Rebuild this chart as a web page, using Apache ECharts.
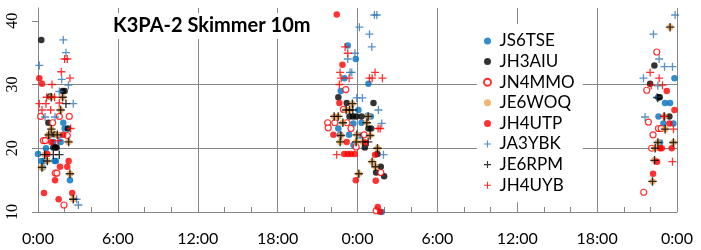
<!DOCTYPE html>
<html><head><meta charset="utf-8">
<script src="https://cdn.jsdelivr.net/npm/echarts@6/dist/echarts.min.js"></script>
<style>html,body{margin:0;padding:0;background:#fff}#c{width:701px;height:250px}</style>
</head><body><div id="c"></div>
<script>
const seriesNames = ['JS6TSE','JH3AIU','JN4MMO','JE6WOQ','JH4UTP','JA3YBK','JE6RPM','JH4UYB'];
const xTickLabels = ['0:00','6:00','12:00','18:00','0:00','6:00','12:00','18:00','0:00'];
const yTickValues = [10,20,30,40];

// [hour since start, value]
const JS6TSE = [[1.9,24],[2.0,23.1],[1.6,22],[1.7,21],[1.15,21],[0.6,20],[0.0,19.1],[0.25,18],[0.45,18],[1.25,18],[1.35,18],[0.35,17],[2.4,15],
  [23.27,36.1],[23.87,34],[23.02,31],[24.82,30.1],[22.74,29],[24.07,26],[24.77,25.1],[25.0,25],[22.56,23.1],[23.69,23.9],[24.3,24],[22.69,22.1],[23.37,22.1],[24.2,22],[23.7,20.5],[25.82,10],
  [47.81,31],[47.1,27.1],[47.48,27.1],[46.61,25],[46.98,23.9],[47.73,23.9],[46.73,20.9]];
const JH3AIU = [[0.25,37],[1.85,29],[2.0,29],[0.9,28.1],[0.78,24],[2.25,23.1],[1.2,22.2],[1.15,20.1],[1.3,20.1],[1.4,20.1],[0.8,22],
  [22.56,28],[23.19,27.1],[25.2,27.1],[23.4,25],[23.65,25],[23.9,25],[24.3,25],[24.82,23.1],[25.02,23.1],[24.55,20.1],[25.5,19.1],[25.75,17.1],[25.4,16.2],[26.0,15.6],
  [46.3,33],[45.98,30.1],[46.6,28],[46.7,28],[47.43,25]];
const JN4MMO = [[0.2,25],[1.1,24],[1.6,25],[2.35,25],[2.2,22],[0.4,21.2],[0.55,21.2],[1.3,16.1],[1.42,16.1],[1.95,11.1],
  [23.12,29.2],[22.94,26.1],[21.76,24],[22.3,24],[21.8,23.2],[23.51,23.1],[23.2,24],[24.5,22.1],[23.9,20.2],[25.75,16.2],[25.4,10.2],
  [46.48,35.1],[45.73,29.1],[45.85,24.1],[46.61,23.1],[46.81,23.1],[46.2,22.1],[46.1,20],[45.5,13.1]];
const JE6WOQ = [[1.0,28],[1.85,28],[1.7,26],[1.0,23],[0.8,22.1],[1.45,22.1],[2.3,21],[0.5,19],[0.7,18],[0.3,17],[2.4,16],[2.65,12],
  [23.62,27],[23.15,26],[23.4,26],[22.25,25],[22.55,25],[24.8,25],[22.9,24],[24.7,24],[22.75,22],[23.95,22.1],[24.95,22],[22.7,21],[23.9,21],[24.4,21],[25.5,20],[25.1,17.9],[25.35,17.1],[24.1,16],
  [47.48,39],[47.06,25],[47.11,23],[46.56,20.9],[47.73,20.9],[46.36,20],[46.31,18.1],[46.16,14.8]];
const JH4UTP = [[0.1,31],[0.3,30.1],[1.9,22.1],[1.0,21],[0.7,19.1],[1.65,17.1],[2.2,17.1],[2.3,18],[1.28,15],[0.45,13],[1.55,12],[2.57,13],
  [22.44,41],[22.87,33.1],[22.64,27.1],[22.19,22.1],[23.19,21],[24.6,20.9],[23.0,19.1],[23.27,19.1],[23.5,19.1],[23.8,19.1],[25.32,19],[23.87,15],[25.37,14.9],[25.52,10.8],[25.7,10.05],
  [47.23,29],[47.81,26],[47.43,23.9],[46.73,20],[46.86,20],[47.6,20],[46.5,17.9],[46.2,16]];
const JA3YBK = [[1.9,37],[2.1,35],[0.1,33],[1.78,30.8],[2.28,29.9],[1.6,28.9],[2.65,27],[0.53,24.9],[1.28,24.9],[2.9,12],[3.03,11.1],
  [25.27,40.9],[25.45,40.9],[24.14,39],[24.9,37.9],[25.07,35.9],[23.81,34.9],[23.27,34],[23.44,31.9],[23.57,31.9],[23.94,27.9],[24.37,27.9],[25.57,26],[25.82,23.9],[25.95,19],
  [47.86,40.9],[46.23,37.9],[46.66,34],[47.06,32.8],[47.66,32.8],[45.48,31],[46.56,29.8],[46.48,28],[45.6,24.9]];
const JE6RPM = [[1.0,28],[1.85,28],[2.1,27],[1.7,26],[1.0,23],[0.8,22.1],[1.45,22.1],[2.3,21],[0.5,19],[1.15,19],[1.6,19],[0.7,18],[0.3,17],[2.4,16],[2.65,12],
  [23.62,27],[23.15,26],[23.4,26],[23.65,26],[22.25,25],[22.55,25],[24.8,25],[22.9,24],[24.7,24],[22.75,22],[23.95,22.1],[24.95,22],[22.7,21],[23.9,21],[24.4,21],[24.8,21],[25.5,20],[25.1,17.9],[25.35,17.1],[24.1,16],
  [47.48,39],[46.56,27.9],[47.06,25],[47.11,23],[46.56,20.9],[47.73,20.9],[46.36,20],[46.31,18.1],[46.16,14.8]];
const JH4UYB = [[2.0,34],[2.2,34],[1.75,32],[2.4,31],[1.05,30],[0.65,28],[1.25,28],[0.1,27],[0.6,27],[1.6,27.1],[0.3,26],[0.95,26],[2.45,23.1],[1.5,21.2],
  [23.07,35.9],[23.27,34.9],[22.69,31.9],[22.77,31],[23.37,31],[24.9,31],[25.1,31],[25.32,31.9],[25.87,31],[22.64,30],[25.55,23.1],[25.7,23.1],[22.44,19],
  [45.98,31.9],[46.66,31],[46.06,29.9],[46.91,29.9],[47.0,25],[47.73,23],[47.66,17.9]];

const PLUS = 'path://M4.2,0H5.8V4.2H10V5.8H5.8V10H4.2V5.8H0V4.2H4.2Z';
const styles = {
  JS6TSE: {symbol:'circle', symbolSize:6.5, itemStyle:{color:'#0070C0'}},
  JH3AIU: {symbol:'circle', symbolSize:6.5, itemStyle:{color:'#000000'}},
  JN4MMO: {symbol:'circle', symbolSize:6, itemStyle:{color:'#ffffff', borderColor:'#FF0000', borderWidth:1.2}},
  JE6WOQ: {symbol:'circle', symbolSize:6.5, itemStyle:{color:'#F2A34E'}},
  JH4UTP: {symbol:'circle', symbolSize:6.5, itemStyle:{color:'#FF0000'}},
  JA3YBK: {symbol:PLUS, symbolSize:8, itemStyle:{color:'#2E75B6'}},
  JE6RPM: {symbol:PLUS, symbolSize:8.5, itemStyle:{color:'#000000'}},
  JH4UYB: {symbol:PLUS, symbolSize:8, itemStyle:{color:'#FF0000'}}
};
const dataMap = {JS6TSE, JH3AIU, JN4MMO, JE6WOQ, JH4UTP, JA3YBK, JE6RPM, JH4UYB};

const grey = '#868686';
const chart = echarts.init(document.getElementById('c'), null, {renderer:'canvas'});
chart.setOption({
  animation: false,
  backgroundColor: '#fff',
  title: {
    text: 'K3PA-2 Skimmer 10m', left: 108, top: 13, padding: [3, 5],
    backgroundColor: '#fff',
    textStyle: {fontFamily: 'Lato', fontSize: 20, fontWeight: 'bold', color: '#000'}
  },
  legend: {
    orient: 'vertical', left: 477, top: 24, padding: [7, 8, 7, 6],
    itemWidth: 14, itemHeight: 7, itemGap: 0.6, backgroundColor: '#fff',
    textStyle: {fontFamily: 'Lato', fontSize: 17, lineHeight: 20, color: '#000'},
    data: seriesNames
  },
  grid: {left: 38, right: 24, top: 8, bottom: 38, containLabel: false},
  xAxis: {
    type: 'value', min: 0, max: 48, interval: 6,
    axisLine: {show: true, onZero: false, lineStyle: {color: grey}},
    axisTick: {show: true, inside: true, length: 5, lineStyle: {color: grey}},
    minorTick: {show: true, splitNumber: 3, length: 5, lineStyle: {color: grey}},
    axisLabel: {formatter: v => xTickLabels[Math.round(v / 6)], fontFamily: 'Lato', fontSize: 16, color: '#000', margin: 19},
    splitLine: {show: true, lineStyle: {color: grey}}
  },
  yAxis: {
    type: 'value', min: 10, max: 42, interval: 10,
    axisLine: {show: true, lineStyle: {color: grey}},
    axisTick: {show: true, length: 6, customValues: yTickValues, lineStyle: {color: grey}},
    axisLabel: {customValues: yTickValues, rotate: 90, margin: 17, fontFamily: 'Liberation Serif', fontSize: 16, color: '#000'},
    splitLine: {show: true, showMaxLine: false, lineStyle: {color: grey}}
  },
  series: seriesNames.map(n => Object.assign({type: 'scatter', name: n, data: dataMap[n]}, styles[n]))
});
</script></body></html>
